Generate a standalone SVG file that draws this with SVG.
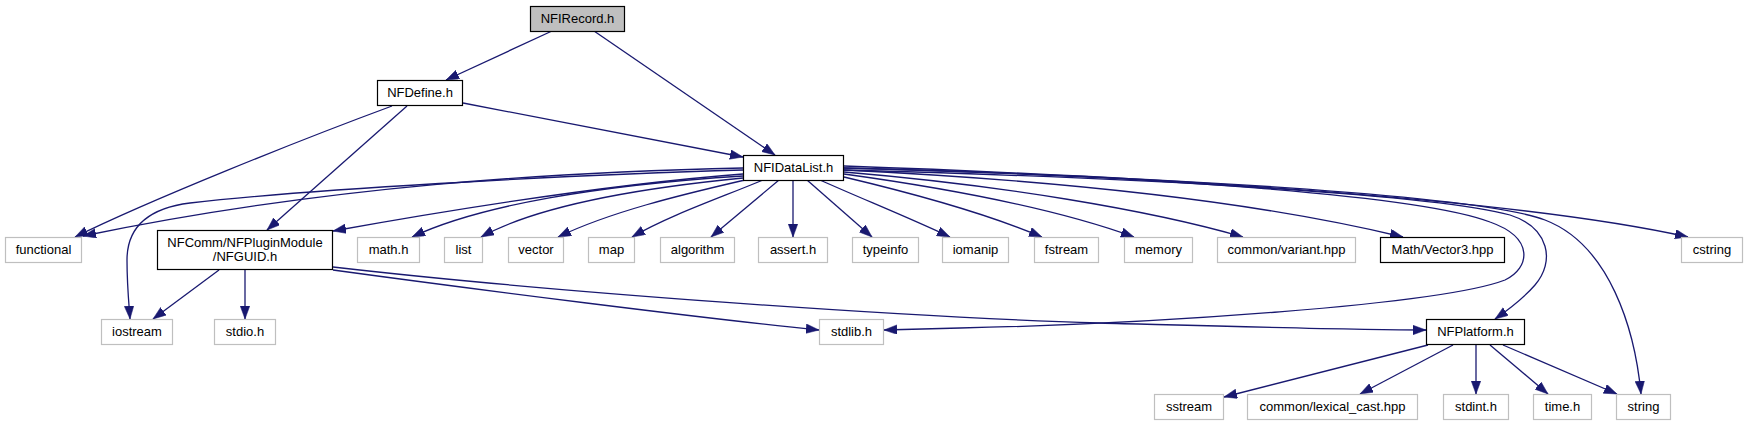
<svg xmlns="http://www.w3.org/2000/svg" width="1748" height="425" viewBox="0 0 1748 425">
<style>
.n rect{fill:#fff;stroke:#000;stroke-width:1.2}
.x rect{fill:#fff;stroke:#bfbfbf;stroke-width:1.2}
.r rect{fill:#bfbfbf;stroke:#000;stroke-width:1.2}
text{font-family:"Liberation Sans",Arial,sans-serif;font-size:13px;text-anchor:middle;fill:#000}
#edges path{fill:none;stroke:#191970;stroke-width:1.3;marker-end:url(#ah)}
</style>
<defs>
<marker id="ah" markerUnits="userSpaceOnUse" markerWidth="14" markerHeight="10" refX="13" refY="4.75" orient="auto">
<path d="M0,0 L13,4.75 L0,9.5 z" fill="#191970" stroke="#191970" stroke-width="0.5"/>
</marker>
</defs>
<rect width="1748" height="425" fill="#fff"/>
<g id="edges">
<path d="M552,31 L446,80"/>
<path d="M594,31 L775,155"/>
<path d="M463,103 L743,157"/>
<path d="M392,106 C300,140 150,200 75,237"/>
<path d="M407,106 L267,230"/>
<path d="M743,168 C560,172 330,185 83,236"/>
<path d="M743,170 C560,175 300,190 190,203 C150,208 127,225 127,260 C127,285 129,305 130,319"/>
<path d="M743,174 C600,185 450,210 333,231"/>
<path d="M743,176 C600,185 480,205 412,237"/>
<path d="M743,178 C620,190 530,210 481,237"/>
<path d="M745,180 C680,195 610,212 558,237"/>
<path d="M763,180 C720,198 670,215 632,237"/>
<path d="M779,180 L711,237"/>
<path d="M793,180 L793,237"/>
<path d="M807,180 L872,237"/>
<path d="M820,180 C860,198 910,218 950,237"/>
<path d="M844,177 C920,195 990,215 1042,237"/>
<path d="M844,174 C960,190 1060,210 1134,237"/>
<path d="M844,172 C1000,185 1150,210 1243,237"/>
<path d="M844,170 C1050,180 1250,200 1403,237"/>
<path d="M844,166 C1100,175 1500,195 1688,237"/>
<path d="M844,168 C1150,176 1420,195 1490,222 C1535,238 1530,268 1505,280 C1440,305 1150,324 960,328 L884,330"/>
<path d="M844,170 C1150,178 1440,195 1510,215 C1550,228 1555,262 1535,285 C1522,300 1508,310 1495,319"/>
<path d="M844,168 C1150,176 1480,195 1545,220 C1610,245 1635,330 1641,394"/>
<path d="M219,270 L153,319"/>
<path d="M245,270 L245,319"/>
<path d="M333,270 C480,290 700,318 819,330"/>
<path d="M333,267 C550,292 900,317 1100,323 C1250,327 1350,330 1426,330"/>
<path d="M1428,345 L1224,397"/>
<path d="M1453,345 L1360,394"/>
<path d="M1476,345 L1476,394"/>
<path d="M1490,345 L1548,394"/>
<path d="M1503,345 L1617,394"/>
</g>
<g id="NFIRecord" class="r"><rect x="530.5" y="6.5" width="94" height="25"/><text x="577.5" y="23">NFIRecord.h</text></g>
<g id="NFDefine" class="n"><rect x="377.5" y="80.5" width="85" height="25"/><text x="420" y="97">NFDefine.h</text></g>
<g id="NFIDataList" class="n"><rect x="743.5" y="155.5" width="100" height="25"/><text x="793.5" y="172">NFIDataList.h</text></g>
<g id="functional" class="x"><rect x="5.5" y="237.5" width="76" height="25"/><text x="43.5" y="254">functional</text></g>
<g id="NFGUID" class="n"><rect x="157.5" y="230.5" width="175" height="39"/><text x="245" y="247">NFComm/NFPluginModule</text><text x="245" y="261">/NFGUID.h</text></g>
<g id="math" class="x"><rect x="357.5" y="237.5" width="62" height="25"/><text x="388.5" y="254">math.h</text></g>
<g id="list" class="x"><rect x="444.5" y="237.5" width="38" height="25"/><text x="463.5" y="254">list</text></g>
<g id="vector" class="x"><rect x="508.5" y="237.5" width="55" height="25"/><text x="536" y="254">vector</text></g>
<g id="map" class="x"><rect x="588.5" y="237.5" width="46" height="25"/><text x="611.5" y="254">map</text></g>
<g id="algorithm" class="x"><rect x="660.5" y="237.5" width="74" height="25"/><text x="697.5" y="254">algorithm</text></g>
<g id="assert" class="x"><rect x="758.5" y="237.5" width="69" height="25"/><text x="793" y="254">assert.h</text></g>
<g id="typeinfo" class="x"><rect x="852.5" y="237.5" width="66" height="25"/><text x="885.5" y="254">typeinfo</text></g>
<g id="iomanip" class="x"><rect x="942.5" y="237.5" width="66" height="25"/><text x="975.5" y="254">iomanip</text></g>
<g id="fstream" class="x"><rect x="1034.5" y="237.5" width="64" height="25"/><text x="1066.5" y="254">fstream</text></g>
<g id="memory" class="x"><rect x="1124.5" y="237.5" width="68" height="25"/><text x="1158.5" y="254">memory</text></g>
<g id="variant" class="x"><rect x="1217.5" y="237.5" width="138" height="25"/><text x="1286.5" y="254">common/variant.hpp</text></g>
<g id="Vector3" class="n"><rect x="1380.5" y="237.5" width="124" height="25"/><text x="1442.5" y="254">Math/Vector3.hpp</text></g>
<g id="cstring" class="x"><rect x="1681.5" y="237.5" width="61" height="25"/><text x="1712" y="254">cstring</text></g>
<g id="iostream" class="x"><rect x="101.5" y="319.5" width="71" height="25"/><text x="137" y="336">iostream</text></g>
<g id="stdio" class="x"><rect x="214.5" y="319.5" width="61" height="25"/><text x="245" y="336">stdio.h</text></g>
<g id="stdlib" class="x"><rect x="819.5" y="319.5" width="64" height="25"/><text x="851.5" y="336">stdlib.h</text></g>
<g id="NFPlatform" class="n"><rect x="1426.5" y="319.5" width="98" height="25"/><text x="1475.5" y="336">NFPlatform.h</text></g>
<g id="sstream" class="x"><rect x="1154.5" y="394.5" width="69" height="25"/><text x="1189" y="411">sstream</text></g>
<g id="lexical_cast" class="x"><rect x="1247.5" y="394.5" width="170" height="25"/><text x="1332.5" y="411">common/lexical_cast.hpp</text></g>
<g id="stdint" class="x"><rect x="1443.5" y="394.5" width="65" height="25"/><text x="1476" y="411">stdint.h</text></g>
<g id="time" class="x"><rect x="1533.5" y="394.5" width="58" height="25"/><text x="1562.5" y="411">time.h</text></g>
<g id="string" class="x"><rect x="1616.5" y="394.5" width="54" height="25"/><text x="1643.5" y="411">string</text></g>
</svg>
